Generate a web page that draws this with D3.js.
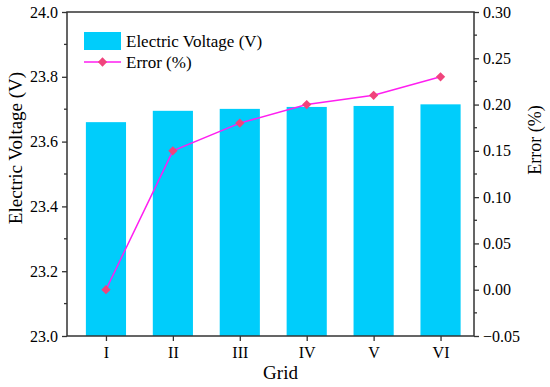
<!DOCTYPE html>
<html>
<head>
<meta charset="utf-8">
<script src="https://cdn.jsdelivr.net/npm/d3@7"></script>
<style>
  body { margin: 0; background: #fff; }
</style>
</head>
<body>
<div id="chart"></div>
<script>
// data
var grids = ["I", "II", "III", "IV", "V", "VI"];
var voltage = [23.660, 23.695, 23.701, 23.707, 23.710, 23.715];
var errorPct = [0.00, 0.15, 0.18, 0.20, 0.21, 0.23];
var voltTicks = [23.0, 23.2, 23.4, 23.6, 23.8, 24.0];
var errTicks = [-0.05, 0.00, 0.05, 0.10, 0.15, 0.20, 0.25, 0.30];

var FONT = "Liberation Serif";
var W = 550, H = 387;
var margin = {top: 12, right: 76, bottom: 51, left: 67},
  width = W - margin.left - margin.right,
  height = H - margin.top - margin.bottom;

var svg = d3.select("#chart").append("svg")
  .attr("width", W).attr("height", H)
  .append("g")
  .attr("transform", "translate(" + margin.left + "," + margin.top + ")");

// scales
var x = d3.scalePoint().domain(grids).range([5.5, width]).padding(0.5);
var step = x.step();
var barW = step * 0.6;
var yL = d3.scaleLinear().domain([23.0, 24.0]).range([height, 0]);
var yR = d3.scaleLinear().domain([-0.05, 0.30]).range([height, 0]);

// bars
svg.selectAll(".bar")
  .data(grids).enter()
  .append("rect")
  .attr("class", "bar")
  .attr("x", function(d) { return x(d) - barW / 2; })
  .attr("width", barW)
  .attr("y", function(d, i) { return yL(voltage[i]); })
  .attr("height", function(d, i) { return height - yL(voltage[i]); })
  .style("fill", "#00cdfb");

// error line
var line = d3.line()
  .x(function(d, i) { return x(grids[i]); })
  .y(function(d) { return yR(d); });
svg.append("path")
  .datum(errorPct)
  .attr("d", line)
  .style("fill", "none")
  .style("stroke", "#ff1ef0")
  .style("stroke-width", 1.5);

var diamond = d3.symbol().type(d3.symbolDiamond2).size(55);
svg.selectAll(".pt")
  .data(errorPct).enter()
  .append("path")
  .attr("class", "pt")
  .attr("d", diamond)
  .attr("transform", function(d, i) { return "translate(" + x(grids[i]) + "," + yR(d) + ")"; })
  .style("fill", "#f0447c");

// axes
var axisColor = "#333";
function styleAxis(g) {
  g.attr("font-family", FONT).attr("font-size", 16);
  g.select(".domain").remove();
  g.selectAll(".tick line").attr("stroke", axisColor).attr("stroke-width", 1.3);
  g.selectAll(".tick text").style("font-family", FONT).style("font-size", "16px").style("fill", "#000");
}

// minor ticks halfway between majors
function minors(ticks) {
  var m = [];
  for (var i = 0; i < ticks.length - 1; i++) m.push((ticks[i] + ticks[i + 1]) / 2);
  return m;
}

var gL = svg.append("g")
  .call(d3.axisLeft(yL).tickValues(voltTicks).tickFormat(d3.format(".1f")).tickSize(5).tickPadding(4));
styleAxis(gL);
gL.selectAll(".minor").data(minors(voltTicks)).enter().append("line")
  .attr("x1", -3).attr("x2", 0)
  .attr("y1", function(d) { return yL(d); }).attr("y2", function(d) { return yL(d); })
  .attr("stroke", axisColor).attr("stroke-width", 1.3);

var gR = svg.append("g").attr("transform", "translate(" + width + ",0)")
  .call(d3.axisRight(yR).tickValues(errTicks).tickFormat(function(d) {
    return d < 0 ? "\u2212" + d3.format(".2f")(-d) : d3.format(".2f")(d);
  }).tickSize(5).tickPadding(4));
styleAxis(gR);
gR.selectAll(".minor").data(minors(errTicks)).enter().append("line")
  .attr("x1", 0).attr("x2", 3)
  .attr("y1", function(d) { return yR(d); }).attr("y2", function(d) { return yR(d); })
  .attr("stroke", axisColor).attr("stroke-width", 1.3);

var gB = svg.append("g").attr("transform", "translate(0," + height + ")")
  .call(d3.axisBottom(x).tickSize(5).tickPadding(6));
styleAxis(gB);

// frame
svg.append("rect")
  .attr("width", width).attr("height", height)
  .style("fill", "none").style("stroke", axisColor).style("stroke-width", 1.5);

// helper for plain text
function label(parent, txt, size) {
  return parent.append("text").text(txt)
    .style("font-family", FONT).style("font-size", size + "px").style("fill", "#000");
}

// axis titles
label(svg, "Electric Voltage (V)", 19)
  .attr("transform", "translate(" + (-margin.left + 22) + "," + (height / 2 - 26) + ") rotate(-90)")
  .style("text-anchor", "middle");
label(svg, "Error (%)", 18)
  .attr("transform", "translate(" + (width + 67) + "," + (height / 2 - 34) + ") rotate(-90)")
  .style("text-anchor", "middle");
label(svg, "Grid", 19)
  .attr("x", width / 2 + 10).attr("y", height + 43)
  .style("text-anchor", "middle");

// legend
var lg = svg.append("g").attr("transform", "translate(17,20)");
lg.append("rect").attr("x", 0).attr("y", 0).attr("width", 37).attr("height", 18).style("fill", "#00cdfb");
label(lg, "Electric Voltage (V)", 17).attr("x", 42).attr("y", 15);
lg.append("line").attr("x1", 0).attr("x2", 37).attr("y1", 30).attr("y2", 30)
  .style("stroke", "#ff1ef0").style("stroke-width", 1.5);
lg.append("path").attr("d", diamond).attr("transform", "translate(18.5,30)").style("fill", "#f0447c");
label(lg, "Error (%)", 17).attr("x", 42).attr("y", 36);
</script>
</body>
</html>
